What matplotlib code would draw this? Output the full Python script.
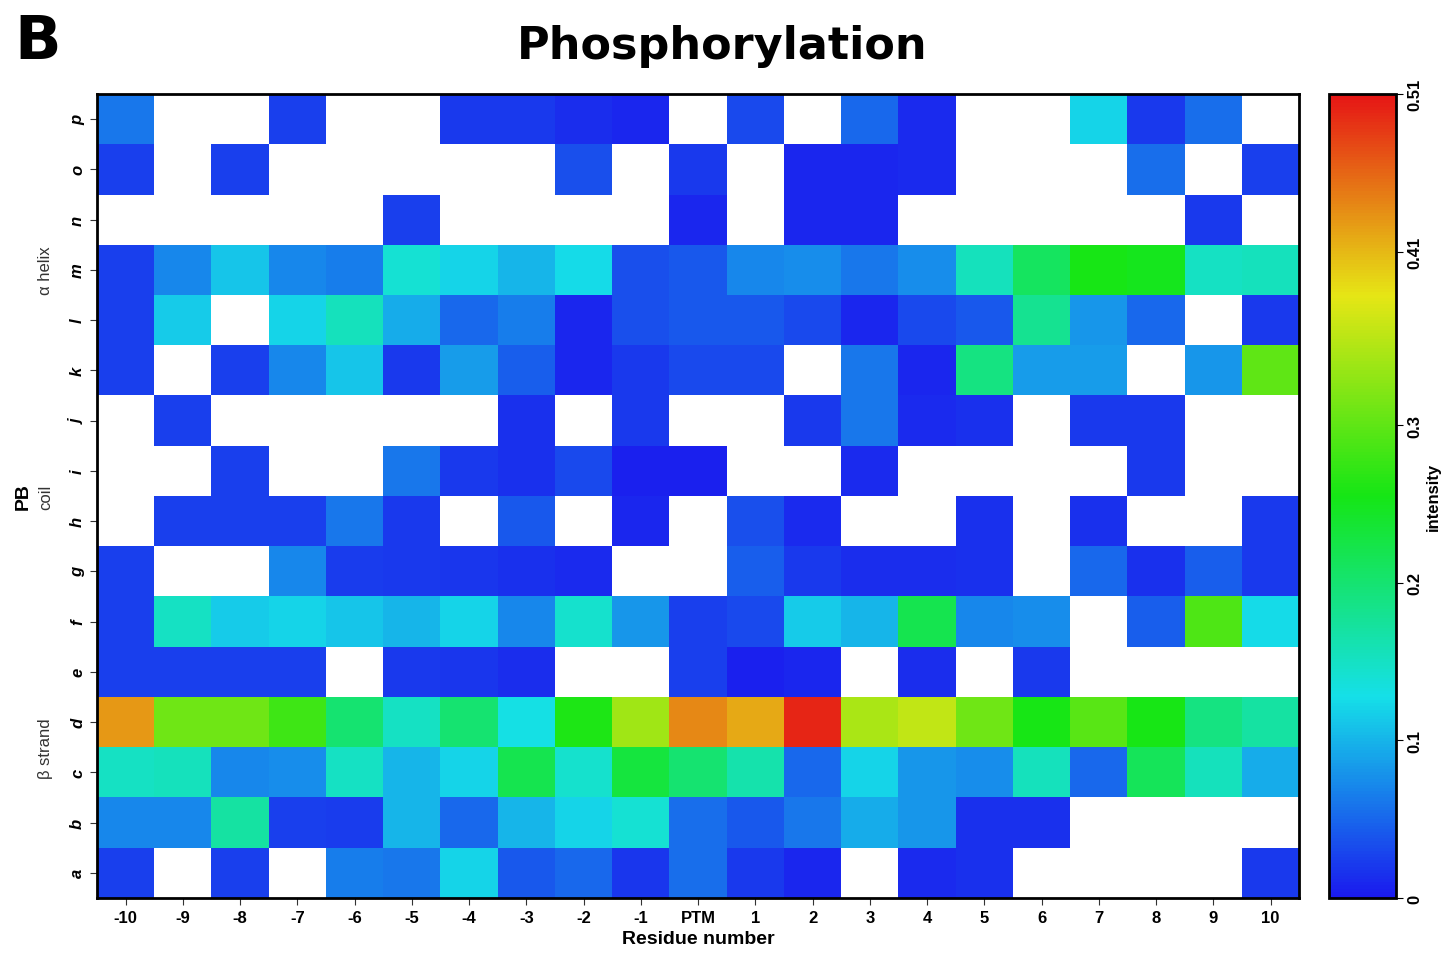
import numpy as np
import matplotlib
matplotlib.use("Agg")
import matplotlib.pyplot as plt
from matplotlib.colors import LinearSegmentedColormap

# residue positions and protein block letters (bottom to top)
residues = ["-10", "-9", "-8", "-7", "-6", "-5", "-4", "-3", "-2", "-1", "PTM",
            "1", "2", "3", "4", "5", "6", "7", "8", "9", "10"]
blocks = list("abcdefghijklmnop")
nan = np.nan

# intensity per block, one row per letter, columns follow `residues`
row_a = [0.025, nan, 0.025, nan, 0.065, 0.06, 0.12, 0.04, 0.05, 0.018, 0.055,
         0.02, 0.008, nan, 0.01, 0.015, nan, nan, nan, nan, 0.02]
row_b = [0.07, 0.07, 0.17, 0.025, 0.022, 0.1, 0.05, 0.1, 0.12, 0.14, 0.055,
         0.04, 0.06, 0.095, 0.08, 0.015, 0.015, nan, nan, nan, nan]
row_c = [0.15, 0.155, 0.07, 0.075, 0.15, 0.1, 0.12, 0.22, 0.145, 0.23, 0.2,
         0.165, 0.05, 0.12, 0.08, 0.075, 0.155, 0.05, 0.215, 0.155, 0.095]
row_d = [0.43, 0.31, 0.31, 0.28, 0.2, 0.15, 0.2, 0.13, 0.26, 0.34, 0.44,
         0.42, 0.5, 0.345, 0.36, 0.31, 0.255, 0.295, 0.255, 0.19, 0.17]
row_e = [0.025, 0.025, 0.025, 0.025, nan, 0.02, 0.018, 0.012, nan, nan, 0.025,
         0.005, 0.008, nan, 0.012, nan, 0.02, nan, nan, nan, nan]
row_f = [0.025, 0.15, 0.115, 0.12, 0.11, 0.1, 0.12, 0.07, 0.145, 0.08, 0.025,
         0.03, 0.115, 0.1, 0.22, 0.07, 0.075, nan, 0.045, 0.29, 0.125]
row_g = [0.025, nan, nan, 0.07, 0.022, 0.02, 0.018, 0.015, 0.01, nan, nan,
         0.045, 0.02, 0.012, 0.012, 0.015, nan, 0.05, 0.015, 0.045, 0.02]
row_h = [nan, 0.025, 0.025, 0.025, 0.06, 0.02, nan, 0.04, nan, 0.008, nan,
         0.035, 0.01, nan, nan, 0.015, nan, 0.015, nan, nan, 0.02]
row_i = [nan, nan, 0.025, nan, nan, 0.06, 0.02, 0.015, 0.03, 0.005, 0.005,
         nan, nan, 0.01, nan, nan, nan, nan, 0.02, nan, nan]
row_j = [nan, 0.025, nan, nan, nan, nan, nan, 0.015, nan, 0.02, nan,
         nan, 0.02, 0.06, 0.01, 0.015, nan, 0.02, 0.02, nan, nan]
row_k = [0.025, nan, 0.025, 0.07, 0.11, 0.02, 0.085, 0.045, 0.008, 0.02, 0.03,
         0.03, nan, 0.06, 0.008, 0.19, 0.085, 0.085, nan, 0.08, 0.3]
row_l = [0.025, 0.115, nan, 0.12, 0.155, 0.095, 0.05, 0.065, 0.008, 0.035, 0.04,
         0.04, 0.03, 0.008, 0.03, 0.04, 0.18, 0.08, 0.05, nan, 0.02]
row_m = [0.025, 0.07, 0.11, 0.07, 0.065, 0.14, 0.12, 0.1, 0.125, 0.035, 0.04,
         0.07, 0.075, 0.06, 0.075, 0.155, 0.21, 0.255, 0.25, 0.15, 0.155]
row_n = [nan, nan, nan, nan, nan, 0.025, nan, nan, nan, nan, 0.008,
         nan, 0.008, 0.008, nan, nan, nan, nan, nan, 0.02, nan]
row_o = [0.025, nan, 0.025, nan, nan, nan, nan, nan, 0.035, nan, 0.02,
         nan, 0.008, 0.008, 0.01, nan, nan, nan, 0.055, nan, 0.025]
row_p = [0.06, nan, nan, 0.025, nan, nan, 0.02, 0.02, 0.012, 0.008, nan,
         0.03, nan, 0.05, 0.01, nan, nan, 0.12, 0.02, 0.055, nan]

cbar_ticks = [0, 0.1, 0.2, 0.3, 0.41, 0.51]
groups = [("\u03b2 strand", 3), ("coil", 8), ("\u03b1 helix", 12.5)]

grid = np.array([row_a, row_b, row_c, row_d, row_e, row_f, row_g, row_h,
                 row_i, row_j, row_k, row_l, row_m, row_n, row_o, row_p])

cmap = LinearSegmentedColormap.from_list(
    "bcgyr", ["#1a1aee", "#15e0e8", "#15e615", "#e6e615", "#e61515"])
cmap.set_bad("white")

narrow = ["Liberation Sans Narrow", "Liberation Sans", "DejaVu Sans"]

fig = plt.figure(figsize=(14.45, 9.54), dpi=100)
ax = fig.add_axes([0.0671, 0.0577, 0.8320, 0.8427])
cax = fig.add_axes([0.9197, 0.0577, 0.0464, 0.8427])

mesh = ax.pcolormesh(np.ma.masked_invalid(grid), cmap=cmap, vmin=0, vmax=0.51)
ax.set_xlim(0, len(residues))
ax.set_ylim(0, len(blocks))
ax.set_xticks(np.arange(len(residues)) + 0.5)
ax.set_xticklabels(residues, fontsize=12, fontweight="bold", family=narrow)
ax.set_yticks(np.arange(len(blocks)) + 0.5)
ax.set_yticklabels(blocks, fontsize=12, fontweight="bold", style="italic",
                   rotation=90, va="center", family=narrow)
ax.tick_params(axis="both", length=5, width=0.8, color="#333333")
for s in ax.spines.values():
    s.set_linewidth(2)

ax.set_xlabel("Residue number", fontsize=14, fontweight="bold",
              family=narrow, labelpad=4)
ax.set_ylabel("PB", fontsize=14, fontweight="bold", family=narrow, labelpad=28)

for name, ypos in groups:
    ax.text(-0.9, ypos, name, rotation=90, ha="center", va="center",
            fontsize=12, color="#333333", family=narrow,
            transform=ax.transData, clip_on=False)

cb = fig.colorbar(mesh, cax=cax, ticks=cbar_ticks)
cb.ax.set_yticklabels([str(t) for t in cbar_ticks], rotation=90, va="center",
                      fontsize=12, fontweight="bold", family=narrow)
cb.outline.set_linewidth(2)
cb.ax.tick_params(length=5, width=0.8)
cb.set_label("intensity", fontsize=12, fontweight="bold", family=narrow,
             labelpad=2)

fig.text(0.4997, 0.951, "Phosphorylation", ha="center", va="center",
         fontsize=32, fontweight="bold")
fig.text(0.01, 0.955, "B", ha="left", va="center", fontsize=44,
         fontweight="bold")

fig.savefig("out.png", dpi=100)
